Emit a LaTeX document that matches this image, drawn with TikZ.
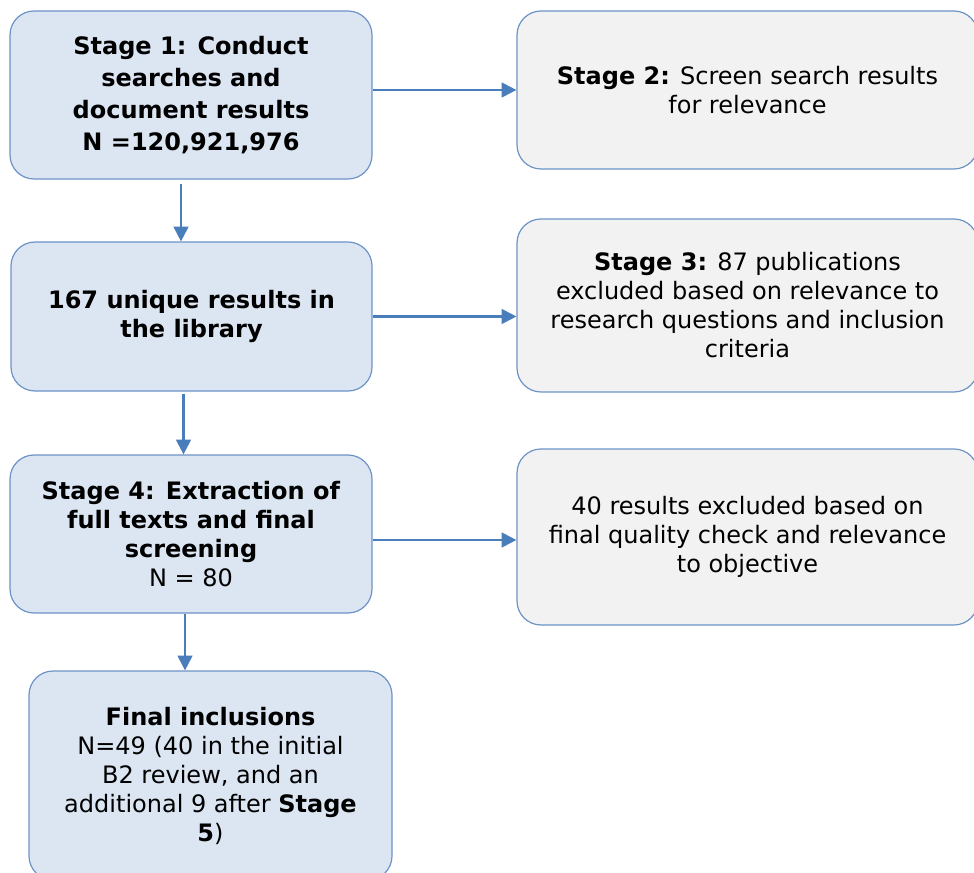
\documentclass[tikz,border=0pt]{standalone}
\usepackage{fontspec}
\setmainfont{DejaVu Sans}
\usepackage{tikz}
\usetikzlibrary{arrows.meta,positioning}

\definecolor{stagefill}{HTML}{DCE6F2}
\definecolor{greyfill}{HTML}{F2F2F2}
\definecolor{edgeblue}{HTML}{6D93C7}
\definecolor{arrowblue}{HTML}{4A7EBB}

\begin{document}
\begin{tikzpicture}[
  x=0.75pt,y=-0.75pt,
  font=\fontsize{18}{21.75}\selectfont,
  box/.style={draw=edgeblue,line width=0.9pt,rounded corners=18pt,align=center,inner sep=0pt},
  stagebox/.style={box,fill=stagefill,minimum width=271.5pt},
  outbox/.style={box,fill=greyfill,minimum width=345.75pt},
  flow/.style={draw=arrowblue,line width=1.6pt,-{Triangle[length=11pt,width=11pt]}}
]
\useasboundingbox (0,0) rectangle (974,873);
\node[stagebox,minimum height=126pt] (s1) at (191,95)
  {\textbf{Stage 1: Conduct}\\[2.25pt]\textbf{searches and}\\[2.25pt]\textbf{document results}\\[2.25pt]\textbf{N =120,921,976}};
\node[outbox,minimum height=118.5pt] (s2) at (747.5,90)
  {\textbf{Stage 2:} Screen search results\\for relevance};
\node[stagebox,minimum height=111.75pt,minimum width=270.75pt] (lib) at (191.5,316.5)
  {\textbf{167 unique results in}\\\textbf{the library}};
\node[outbox,minimum height=129.75pt] (s3) at (747.5,305.5)
  {\textbf{Stage 3:} 87 publications\\excluded based on relevance to\\research questions and inclusion\\criteria};
\node[stagebox,minimum height=118.5pt] (s4) at (191,534)
  {\textbf{Stage 4: Extraction of}\\\textbf{full texts and final}\\\textbf{screening}\\N = 80};
\node[outbox,minimum height=132pt] (excl) at (747.5,537)
  {40 results excluded based on\\final quality check and relevance\\to objective};
\node[stagebox,minimum height=156.75pt,minimum width=272.25pt] (final) at (210.5,775.5)
  {\textbf{Final inclusions}\\N=49 (40 in the initial\\B2 review, and an\\additional 9 after \textbf{Stage}\\\textbf{5})};

\draw[flow] (s1.east |- s2.west) -- (s2.west);
\draw[flow] ([xshift=-7.5pt,yshift=-3pt]s1.south) -- ([xshift=-7.5pt]s1.south |- lib.north);
\draw[flow] (lib.east) -- (lib.east -| s3.west);
\draw[flow] ([xshift=-6pt,yshift=-1.5pt]lib.south) -- ([xshift=-6pt]lib.south |- s4.north);
\draw[flow] ([yshift=-4.5pt]s4.east) -- ([yshift=-4.5pt]s4.east -| excl.west);
\draw[flow] ([xshift=-4.5pt]s4.south) -- ([xshift=-4.5pt]s4.south |- final.north);
\end{tikzpicture}
\end{document}
